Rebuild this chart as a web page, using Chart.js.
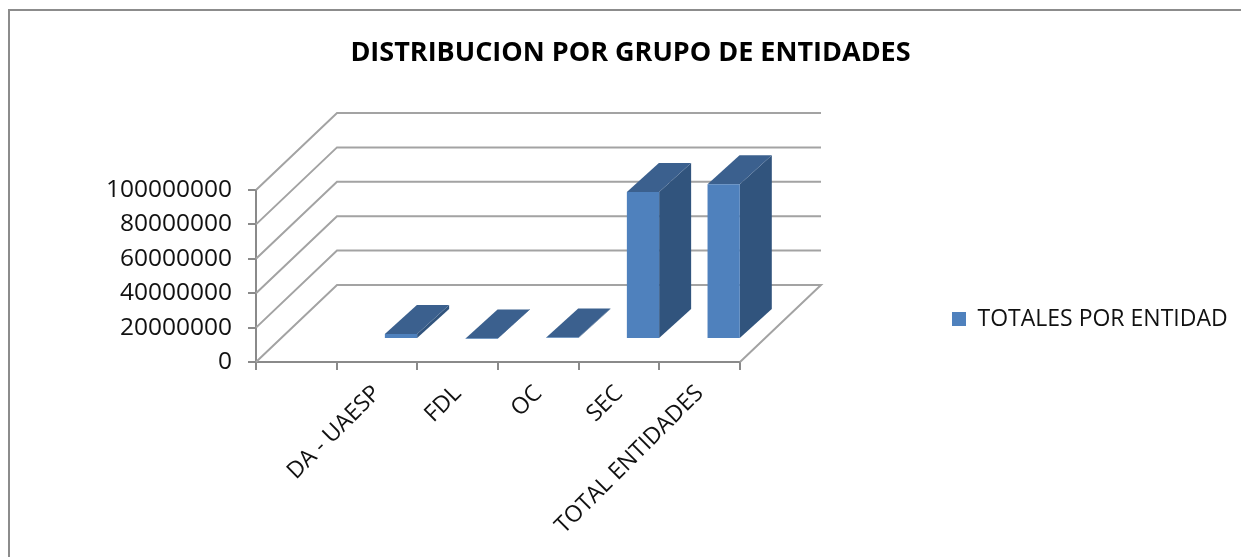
<!DOCTYPE html>
<html><head><meta charset="utf-8">
<style>html,body{margin:0;padding:0;background:#fff;overflow:hidden}
#wrap{position:relative;width:1241px;height:557px}
#frame{position:absolute;left:8px;top:9px;right:-5px;bottom:-5px;border:2px solid #8c8c8c}
canvas{position:absolute;left:0;top:0;filter:blur(0.5px)}</style>
<script src="https://cdn.jsdelivr.net/npm/chart.js@4/dist/chart.umd.min.js"></script>
</head><body>
<div id="wrap"><div id="frame"></div><canvas id="c" width="1241" height="557"></canvas></div>
<script>
const categories = ['', 'DA - UAESP', 'FDL', 'OC', 'SEC', 'TOTAL ENTIDADES'];
const seriesName = 'TOTALES POR ENTIDAD';
const totals = [null, 2900000, 300000, 900000, 85500000, 90000000];
const chartTitle = 'DISTRIBUCION POR GRUPO DE ENTIDADES';

const DEPTH_X = 81, DEPTH_Y = 77, BAR_DX = 24, BAR_DY = 23;
const GRID = '#a3a3a3', AXIS = '#8a8a8a';
const FONT = '"Open Sans", sans-serif';

const threeD = {
  id: 'threeD',
  beforeDatasetsDraw(chart) {
    const {ctx, chartArea: a, scales: {y}} = chart;
    ctx.save();
    ctx.strokeStyle = GRID; ctx.lineWidth = 2;
    y.ticks.forEach((t, i) => {
      const py = y.getPixelForValue(t.value);
      ctx.beginPath();
      ctx.moveTo(a.left, py);
      ctx.lineTo(a.left + DEPTH_X, py - DEPTH_Y);
      ctx.lineTo(a.right + DEPTH_X, py - DEPTH_Y);
      if (i === 0) { ctx.lineTo(a.right, py); }
      ctx.stroke();
    });
    ctx.restore();
  },
  beforeDatasetDraw(chart, args) {
    const {ctx} = chart;
    const meta = args.meta;
    ctx.save();
    ctx.translate(BAR_DX, -BAR_DY);
    meta.data.forEach((b, i) => {
      if (totals[i] === null) { b.hidden = true; return; }
      const w = b.width, l = b.x - w / 2, r = b.x + w / 2;
      const dx = 32, dy = 29;
      ctx.fillStyle = '#31547d';
      ctx.beginPath();
      ctx.moveTo(r, b.y); ctx.lineTo(r + dx, b.y - dy); ctx.lineTo(r + dx, b.base - dy); ctx.lineTo(r, b.base);
      ctx.closePath(); ctx.fill();
      ctx.fillStyle = '#3b608e';
      ctx.beginPath();
      ctx.moveTo(l, b.y); ctx.lineTo(l + dx, b.y - dy); ctx.lineTo(r + dx, b.y - dy); ctx.lineTo(r, b.y);
      ctx.closePath(); ctx.fill();
    });
  },
  afterDatasetDraw(chart) { chart.ctx.restore(); },
  afterLayout(chart) {
    const lg = chart.legend, h = lg.bottom - lg.top, w = lg.right - lg.left;
    lg.left = 942; lg.right = 942 + w;
    lg.top = 319 - h / 2; lg.bottom = lg.top + h;
    chart.titleBlock.left = 20; chart.titleBlock.right = 1241;
  }
};

new Chart(document.getElementById('c'), {
  type: 'bar',
  data: { labels: categories, datasets: [{
    label: seriesName, data: totals, backgroundColor: '#4f81bd',
    barPercentage: 1, categoryPercentage: 0.4, clip: false
  }]},
  plugins: [threeD],
  options: {
    responsive: false, animation: false, devicePixelRatio: 1,
    layout: { padding: { left: 105, right: 501, top: 37, bottom: 0 } },
    plugins: {
      title: { display: true, text: chartTitle, color: '#000',
        font: { family: FONT, size: 27, weight: 'bold' }, padding: { top: 0, bottom: 120.6 } },
      legend: { position: 'chartArea', align: 'center',
        labels: { boxWidth: 14, boxHeight: 14, padding: 10, color: '#111',
          font: { family: FONT, size: 23 } } },
      tooltip: { enabled: false }
    },
    scales: {
      x: { afterFit(s) { s.height = 195; },
        grid: { drawOnChartArea: false, color: AXIS, lineWidth: 2, tickLength: 8, offset: true },
        border: { color: AXIS, width: 2 },
        ticks: { autoSkip: false, minRotation: 45, maxRotation: 45, color: '#111', padding: 10,
          font: { family: FONT, size: 23 } } },
      y: { min: 0, max: 100000000,
        afterFit(s) { s.width = 151; },
        grid: { drawOnChartArea: false, color: AXIS, lineWidth: 2, tickLength: 8 },
        border: { color: AXIS, width: 2 },
        ticks: { stepSize: 20000000, color: '#111', padding: 16, autoSkip: false,
          callback: v => String(v),
          font: { family: FONT, size: 24.5 } } }
    }
  }
});
</script>
</body></html>
